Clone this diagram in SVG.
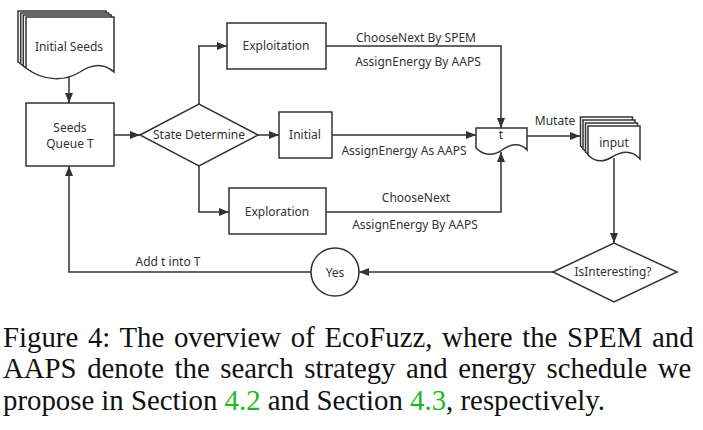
<svg xmlns="http://www.w3.org/2000/svg" width="703" height="430" viewBox="0 0 703 430">
<defs>
<marker id="arr" viewBox="0 0 10 8" refX="10" refY="4" markerWidth="10" markerHeight="8" markerUnits="userSpaceOnUse" orient="auto">
<path d="M0,0 L10,4 L0,8 Z" fill="#333"/>
</marker>
<path id="seedDoc" d="M26,17 H114 V72 C104,63 92,64 80,72 C66,81 44,82 26,68 Z"/>
<path id="inDoc" d="M588,126 H640 V159 C632,150 622,151 612,157 C604,162 596,163 588,155 Z"/>
</defs>
<style>
.s{fill:#fff;stroke:#333;stroke-width:1.5}
.c{fill:none;stroke:#333;stroke-width:1.5;marker-end:url(#arr)}
.t{font-family:"Noto Sans","Open Sans","DejaVu Sans",sans-serif;font-size:12px;fill:#333;text-anchor:middle}
.cap{font-size:28.8px;fill:#111}
.g{fill:#1db91d}
</style>
<rect width="703" height="430" fill="#fff"/>
<g id="connectors">
<path class="c" d="M69,75 V103"/>
<path class="c" d="M114,135 H140"/>
<path class="c" d="M199,104 V46 H227"/>
<path class="c" d="M258,135 H279"/>
<path class="c" d="M199,166 V212 H229"/>
<path class="c" d="M326,46 H501 V128"/>
<path class="c" d="M332,135 H476"/>
<path class="c" d="M326,212 H501 V152"/>
<path class="c" d="M527,136 H580"/>
<path class="c" d="M614,158 V243"/>
<path class="c" d="M553,272 H359"/>
<path class="c" d="M311,272 H69 V166"/>
<text class="t" x="416" y="42">ChooseNext By SPEM</text>
<text class="t" x="418" y="66">AssignEnergy By AAPS</text>
<text class="t" x="404" y="155">AssignEnergy As AAPS</text>
<text class="t" x="416" y="202">ChooseNext</text>
<text class="t" x="415" y="229">AssignEnergy By AAPS</text>
<text class="t" x="555" y="125">Mutate</text>
<text class="t" x="168" y="266">Add t into T</text>
</g>
<g id="initial-seeds">
<use href="#seedDoc" class="s" transform="translate(-8,-6)"/>
<use href="#seedDoc" class="s" transform="translate(-5.3,-4)"/>
<use href="#seedDoc" class="s" transform="translate(-2.7,-2)"/>
<use href="#seedDoc" class="s"/>
<text class="t" x="69" y="51">Initial Seeds</text>
</g>
<g id="seeds-queue">
<rect class="s" x="26" y="103" width="88" height="63"/>
<text class="t" x="70" y="132">Seeds</text>
<text class="t" x="70" y="148">Queue T</text>
</g>
<g id="state-determine">
<path class="s" d="M140,135 L199,104 L258,135 L199,166 Z"/>
<text class="t" x="199" y="139">State Determine</text>
</g>
<g id="exploitation">
<rect class="s" x="227" y="23" width="99" height="46"/>
<text class="t" x="276" y="50">Exploitation</text>
</g>
<g id="initial">
<rect class="s" x="279" y="112" width="53" height="46"/>
<text class="t" x="305" y="139">Initial</text>
</g>
<g id="exploration">
<rect class="s" x="229" y="188" width="97" height="46"/>
<text class="t" x="277" y="216">Exploration</text>
</g>
<g id="t-doc">
<path class="s" d="M476,128 H527 V150 C520,142 510,144 502,150 C494,156 484,156 476,148 Z"/>
<text class="t" x="501" y="139">t</text>
</g>
<g id="input">
<use href="#inDoc" class="s" transform="translate(-7.5,-9)"/>
<use href="#inDoc" class="s" transform="translate(-5,-6)"/>
<use href="#inDoc" class="s" transform="translate(-2.5,-3)"/>
<use href="#inDoc" class="s"/>
<text class="t" x="614" y="147">input</text>
</g>
<g id="is-interesting">
<path class="s" d="M553,272 L614,243 L677,272 L614,302 Z"/>
<text class="t" x="613" y="276">IsInteresting?</text>
</g>
<g id="yes">
<circle class="s" cx="335" cy="272" r="24"/>
<text class="t" x="335" y="277">Yes</text>
</g>
<g id="caption" font-family="'Liberation Serif', Tinos, 'Times New Roman', serif">
<text class="cap" x="3" y="347" word-spacing="2.5">Figure 4: The overview of EcoFuzz, where the SPEM and</text>
<text class="cap" x="3" y="378" word-spacing="3.35">AAPS denote the search strategy and energy schedule we</text>
<text class="cap" x="3" y="410">propose in Section <tspan class="g">4.2</tspan> and Section <tspan class="g">4.3</tspan>, respectively.</text>
</g>
</svg>
